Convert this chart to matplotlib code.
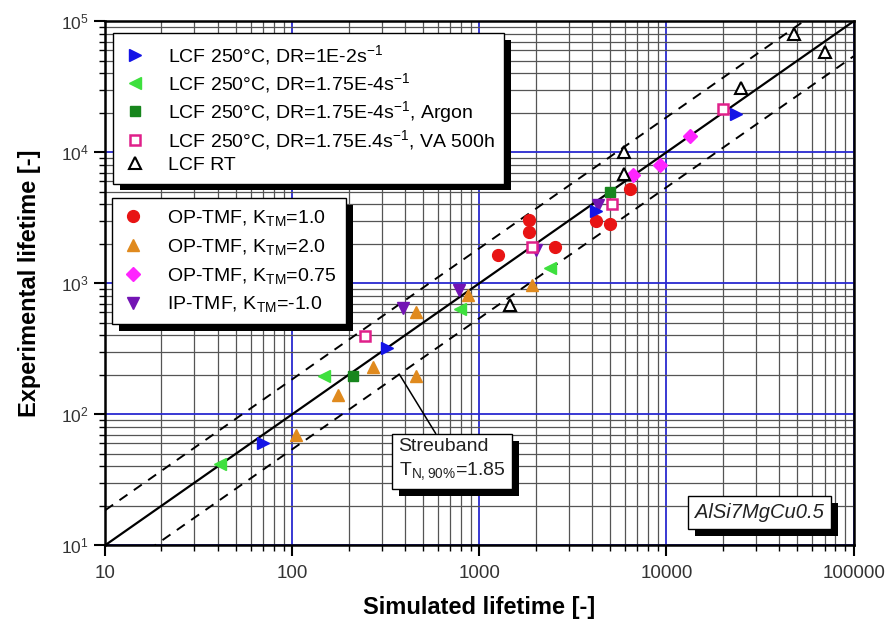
import numpy as np
import matplotlib
matplotlib.use('Agg')
import matplotlib.pyplot as plt
import matplotlib.patheffects as pe
from matplotlib.ticker import LogLocator, FixedLocator, NullFormatter

plt.rcParams['font.family'] = ['Liberation Sans', 'DejaVu Sans']
plt.rcParams['mathtext.default'] = 'regular'

# data: (simulated, experimental) lifetimes
lcf_fast_x = [70, 320, 4200, 23500]
lcf_fast_y = [60, 318, 3550, 19500]

lcf_slow_x = [41, 147, 790, 2400]
lcf_slow_y = [42, 195, 640, 1300]

lcf_argon_x = [212, 5000]
lcf_argon_y = [195, 5000]

lcf_va_x = [245, 1900, 5100, 20000]
lcf_va_y = [395, 1900, 4000, 21500]

lcf_rt_x = [1450, 5900, 5900, 25000, 48000, 70000]
lcf_rt_y = [680, 6800, 10000, 31000, 80000, 58000]

op10_x = [1260, 1850, 1850, 2550, 4200, 5000, 6400]
op10_y = [1650, 3050, 2450, 1900, 3000, 2850, 5200]

op20_x = [105, 175, 270, 460, 460, 870, 1900]
op20_y = [70, 140, 230, 195, 600, 810, 970]

op075_x = [6600, 9200, 13300]
op075_y = [6700, 8000, 13300]

ip_x = [390, 780, 2000, 4300]
ip_y = [650, 890, 1800, 3940]

T_band = 1.85
diag = np.array([10, 100000])

x_tick_vals = [10, 100, 1000, 10000, 100000]
x_tick_labels = ['10', '100', '1000', '10000', '100000']

fig = plt.figure(figsize=(8.91, 6.26), dpi=100)
ax = fig.add_subplot(111)
fig.subplots_adjust(left=0.118, right=0.958, bottom=0.129, top=0.966)

ax.set_xscale('log')
ax.set_yscale('log')
ax.set_xlim(10, 100000)
ax.set_ylim(10, 100000)

# grid: blue decades, gray minors
ax.grid(which='major', color='#2a2ad0', linewidth=1.3, zorder=0)
ax.grid(which='minor', color='#555555', linewidth=0.9, zorder=0)
ax.set_axisbelow(True)

# 1:1 line and scatter band
ax.plot(diag, diag, color='k', lw=1.6, zorder=2)
ax.plot(diag, diag * T_band, color='k', lw=1.4, ls=(0, (5, 4)), zorder=2)
ax.plot(diag, diag / T_band, color='k', lw=1.4, ls=(0, (5, 4)), zorder=2)

ms = 8.5
h1 = []
h1 += ax.plot(lcf_fast_x, lcf_fast_y, '>', color='#1414e6', ms=ms, ls='none', zorder=4,
              label='LCF 250°C, DR=1E-2s$^{-1}$')
h1 += ax.plot(lcf_slow_x, lcf_slow_y, '<', color='#3ee03e', ms=ms, ls='none', zorder=4,
              label='LCF 250°C, DR=1.75E-4s$^{-1}$')
h1 += ax.plot(lcf_argon_x, lcf_argon_y, 's', color='#17861d', ms=7, ls='none', zorder=4,
              label='LCF 250°C, DR=1.75E-4s$^{-1}$, Argon')
h1 += ax.plot(lcf_va_x, lcf_va_y, 's', mfc='white', mec='#e0208a', mew=1.8, ms=6.5, ls='none', zorder=4,
              label='LCF 250°C, DR=1.75E.4s$^{-1}$, VA 500h')
h1 += ax.plot(lcf_rt_x, lcf_rt_y, '^', mfc='white', mec='k', mew=1.5, ms=9, ls='none', zorder=4,
              label='LCF RT')

h2 = []
h2 += ax.plot(op10_x, op10_y, 'o', color='#e81414', ms=ms, ls='none', zorder=3,
              label='OP-TMF, K$_{TM}$=1.0')
h2 += ax.plot(op20_x, op20_y, '^', color='#e08a1e', ms=ms, ls='none', zorder=3,
              label='OP-TMF, K$_{TM}$=2.0')
h2 += ax.plot(op075_x, op075_y, 'D', color='#ff24ff', ms=7.5, ls='none', zorder=3,
              label='OP-TMF, K$_{TM}$=0.75')
h2 += ax.plot(ip_x, ip_y, 'v', color='#7314b4', ms=ms, ls='none', zorder=3,
              label='IP-TMF, K$_{TM}$=-1.0')

shadow = [pe.SimplePatchShadow(offset=(5, -5), shadow_rgbFace='k', alpha=1), pe.Normal()]

leg_kw = dict(loc='upper left', borderaxespad=0, fontsize=14, fancybox=False, framealpha=1,
              edgecolor='k', handlelength=1.2, handletextpad=1.1, borderpad=0.5)
leg1 = ax.legend(handles=h1, bbox_to_anchor=(0.0107, 0.977), labelspacing=0.2, **leg_kw)
leg1.get_frame().set_linewidth(1.0)
leg1.get_frame().set_path_effects(shadow)
leg1.set_zorder(6)
ax.add_artist(leg1)

leg2 = ax.legend(handles=h2, bbox_to_anchor=(0.0093, 0.662), labelspacing=0.45, **leg_kw)
leg2.get_frame().set_linewidth(1.0)
leg2.get_frame().set_path_effects(shadow)
leg2.set_zorder(6)

# scatter band annotation
ann = ax.annotate('Streuband\nT$_{N,90\\%}$=1.85', xy=(376, 199), xycoords='data',
                  xytext=(0.392, 0.205), textcoords='axes fraction',
                  ha='left', va='top', fontsize=14, color='#222222', linespacing=1.35,
                  bbox=dict(boxstyle='square,pad=0.35', fc='white', ec='k', lw=1.0),
                  arrowprops=dict(arrowstyle='-', color='k', lw=1.1, shrinkA=0, shrinkB=0),
                  zorder=6)
ann.get_bbox_patch().set_path_effects(shadow)

mat = ax.text(0.788, 0.063, 'AlSi7MgCu0.5', transform=ax.transAxes, fontsize=14.5,
              style='italic', color='#222222', ha='left', va='center',
              bbox=dict(boxstyle='square,pad=0.35', fc='white', ec='k', lw=1.0), zorder=6)
mat.get_bbox_patch().set_path_effects(shadow)

# ticks
ax.xaxis.set_major_locator(FixedLocator(x_tick_vals))
ax.set_xticklabels(x_tick_labels)
ax.xaxis.set_minor_locator(LogLocator(base=10, subs=np.arange(2, 10)))
ax.xaxis.set_minor_formatter(NullFormatter())
ax.yaxis.set_minor_locator(LogLocator(base=10, subs=np.arange(2, 10)))
ax.yaxis.set_minor_formatter(NullFormatter())
ax.tick_params(which='major', direction='out', length=8, width=1.5, labelsize=13.5,
               labelcolor='#333333', pad=6)
ax.tick_params(axis='y', which='major', labelsize=12.5, pad=4)
ax.tick_params(which='minor', direction='out', length=4, width=1.0)

for s in ax.spines.values():
    s.set_linewidth(1.8)

ax.set_xlabel('Simulated lifetime [-]', fontsize=17, fontweight='bold', labelpad=10)
ax.set_ylabel('Experimental lifetime [-]', fontsize=17, fontweight='bold', labelpad=14)

fig.savefig('out.png', dpi=100)
